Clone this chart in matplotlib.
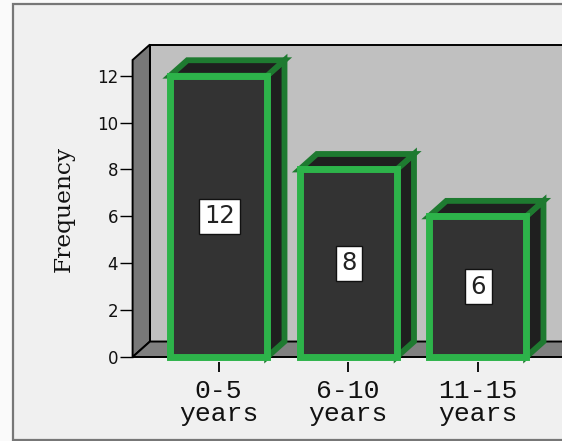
import matplotlib.pyplot as plt
from matplotlib.patches import Polygon, Rectangle

# data
categories = ["0-5", "6-10", "11-15"]
tick_labels = ["0-5\nyears", "6-10\nyears", "11-15\nyears"]
frequency = [12, 8, 6]
y_ticks = [0, 2, 4, 6, 8, 10, 12]

W, H = 562, 441
fig = plt.figure(figsize=(W / 100, H / 100), dpi=100)
fig.patch.set_facecolor("#fafafa")

# outer chart frame (cut off on the right like the original)
fig.patches.append(Rectangle((13 / W, 1.5 / H), 1.2, 435.5 / H, transform=fig.transFigure,
                             facecolor="#f0f0f0", edgecolor="#777777", lw=1.6, zorder=-5))

ax = fig.add_axes([132.6 / W, 84 / H, (W - 132.6) / W, 297 / H])
ax.set_zorder(2)
X0, XR = -0.664, 3.2
YT = 12.67
ax.set_xlim(X0, 2.652)
ax.set_ylim(0, YT)
ax.patch.set_visible(False)
for s in ax.spines.values():
    s.set_visible(False)
ax.spines["bottom"].set_position(("outward", 3.6))

# 3d depth in data units
DX, DY = 0.134, 0.66
BW = 0.75

# walls
ax.add_patch(Rectangle((X0 + DX, DY), XR, YT, facecolor="#c0c0c0", edgecolor="black",
                       lw=1.4, clip_on=False, zorder=1))
ax.add_patch(Polygon([(X0, 0), (X0, YT), (X0 + DX, YT + DY), (X0 + DX, DY)],
                     closed=True, facecolor="#787878", edgecolor="black", lw=1.4,
                     clip_on=False, zorder=2))
ax.add_patch(Polygon([(X0, 0), (XR, 0), (XR + DX, DY), (X0 + DX, DY)],
                     closed=True, facecolor="#808080", edgecolor="black", lw=1.4,
                     clip_on=False, zorder=2))

# bars
for i, v in enumerate(frequency):
    xl, xr = i - BW / 2, i + BW / 2
    side = Polygon([(xr, 0), (xr, v), (xr + DX, v + DY), (xr + DX, DY)], closed=True,
                   facecolor="#1f1f1f", edgecolor="#1e7a30", lw=4.2, joinstyle="miter",
                   clip_on=False, zorder=3)
    top = Polygon([(xl, v), (xr, v), (xr + DX, v + DY), (xl + DX, v + DY)], closed=True,
                  facecolor="#1f1f1f", edgecolor="#1e7a30", lw=4.2, joinstyle="miter",
                  clip_on=False, zorder=3)
    front = Rectangle((xl, 0), BW, v, facecolor="#333333", edgecolor="#2db34a", lw=5,
                      joinstyle="miter", clip_on=False, zorder=4)
    ax.add_patch(side)
    ax.add_patch(top)
    ax.add_patch(front)
    ax.text(i + 0.007, v / 2, str(v), ha="center", va="center", fontsize=17.5,
            color="#222222", zorder=5,
            bbox=dict(boxstyle="square,pad=0.22", facecolor="white", edgecolor="#111111", lw=1))

ax.set_yticks(y_ticks)
ax.set_yticklabels([str(t) for t in y_ticks], fontsize=12, color="#111111")
ax.set_xticks(range(len(categories)))
ax.set_xticklabels(tick_labels, fontfamily="Liberation Mono", fontsize=19,
                   linespacing=0.95, color="#111111")
ax.tick_params(axis="y", direction="out", length=9.5, width=1, pad=1, color="black")
ax.tick_params(axis="x", direction="out", length=7.2, width=1.3, pad=5, color="black")

ax.set_ylabel("Frequency", fontfamily="DejaVu Serif", fontsize=16.8, color="#111111")
ax.yaxis.set_label_coords(-0.134, 0.5)

fig.savefig("out.png", dpi=100)
